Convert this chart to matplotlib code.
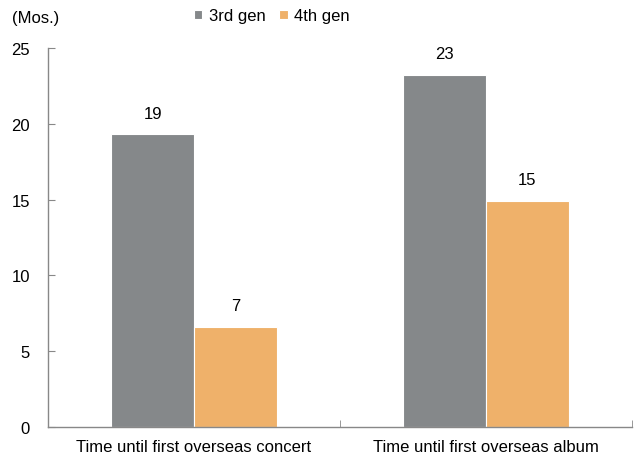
import matplotlib
matplotlib.use("Agg")
import matplotlib.pyplot as plt
import numpy as np

plt.rcParams['font.family'] = ['Liberation Sans Narrow', 'Liberation Sans', 'DejaVu Sans']

categories = ["Time until first overseas concert", "Time until first overseas album"]
gen3 = [19.3, 23.2]
gen4 = [6.6, 14.9]
series_names = ["3rd gen", "4th gen"]

c3 = "#85888a"
c4 = "#efb16a"
fs = 12

fig = plt.figure(figsize=(6.44, 4.64), dpi=100)
ax = fig.add_axes([48/644, 1 - 428/464, 584/644, 379/464])

x = np.arange(len(categories))
w = 0.283
b1 = ax.bar(x - w/2, gen3, w, color=c3, edgecolor="white", linewidth=0.8, label=series_names[0])
b2 = ax.bar(x + w/2, gen4, w, color=c4, edgecolor="white", linewidth=0.8, label=series_names[1])

# value labels above each bar
for bars, vals in [(b1, gen3), (b2, gen4)]:
    for r, v in zip(bars, vals):
        ax.annotate(f"{v:.0f}", (r.get_x() + r.get_width()/2, v), xytext=(0, 10),
                    textcoords="offset points", ha="center", va="bottom", fontsize=fs)

ax.set_xlim(-0.5, 1.5)
ax.set_ylim(0, 25)
ax.set_yticks([0, 5, 10, 15, 20, 25])
ax.set_xticks(x)
ax.set_xticklabels(categories)
ax.set_xticks([0.5, 1.5], minor=True)
ax.tick_params(axis="x", which="major", length=0, pad=9, labelsize=fs)
ax.tick_params(axis="x", which="minor", direction="in", length=5, color="#888888")
ax.tick_params(axis="y", direction="in", length=5, color="#888888", labelsize=fs, pad=13)

for s in ["top", "right"]:
    ax.spines[s].set_visible(False)
for s in ["left", "bottom"]:
    ax.spines[s].set_color("#888888")
    ax.spines[s].set_linewidth(1)

fig.text(12/644, 1 - 18/464, "(Mos.)", fontsize=fs, va="center", ha="left")
fig.legend(loc="center", bbox_to_anchor=(272/644, 1 - 17/464), ncol=2, frameon=False,
           fontsize=fs, handlelength=0.5, handleheight=0.5, handletextpad=0.4,
           columnspacing=0.8)

fig.savefig("out.png", dpi=100)
